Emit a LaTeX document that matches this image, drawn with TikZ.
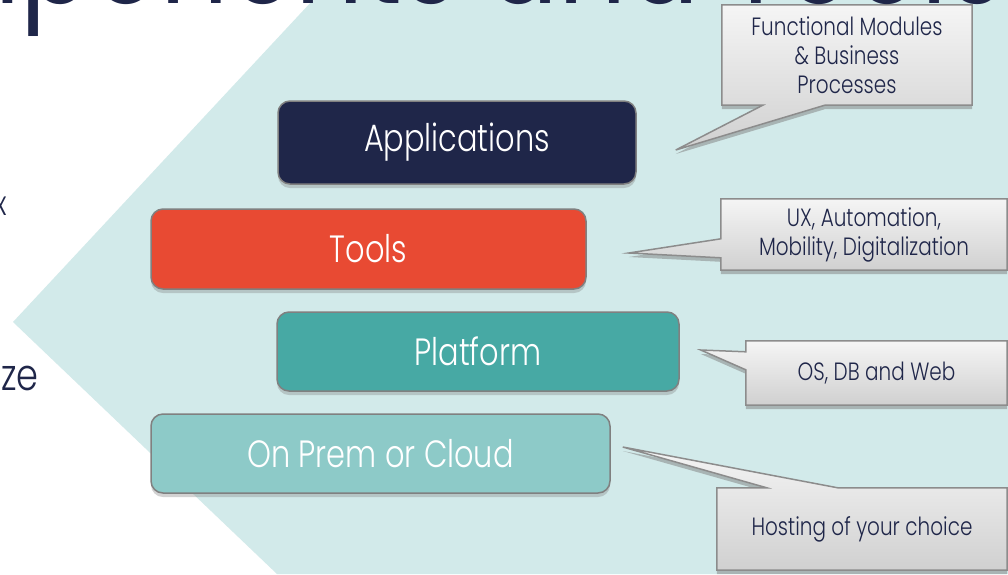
\documentclass[tikz,border=0pt]{standalone}
\usepackage{fontspec}
\usepackage{xcolor}
\usepackage{tikz}
\usetikzlibrary{calc,shadows,backgrounds}
\newfontfamily\jost{Poppins}[UprightFont=* Light, FakeStretch=0.8]
\newfontfamily\jostheading{Poppins}[FakeStretch=0.84]

\definecolor{navy}{RGB}{31,38,73}
\definecolor{toolsred}{RGB}{232,74,51}
\definecolor{platformteal}{RGB}{71,169,164}
\definecolor{cloudteal}{RGB}{141,202,200}
\definecolor{chevron}{RGB}{210,234,234}
\definecolor{boxgray}{RGB}{128,128,128}
\definecolor{notegray}{RGB}{140,140,140}
\definecolor{notetop}{RGB}{245,245,245}
\definecolor{notebottom}{RGB}{208,208,208}

\tikzset{
    layerbox/.style={rounded corners=12pt, draw=boxgray, line width=1.5pt,
        text=white, font=\jost\fontsize{38}{44}\selectfont,
        drop shadow={shadow xshift=0pt, shadow yshift=-4pt, opacity=0.35}},
    notetext/.style={text=navy, font=\jost\fontsize{25}{29}\selectfont,
        align=center, inner sep=0pt},
    noteshape/.style={draw=notegray, line width=1.5pt,
        top color=notetop, bottom color=notebottom,
        drop shadow={shadow xshift=0pt, shadow yshift=-4pt, opacity=0.5}},
    titletext/.style={text=navy, font=\jostheading\fontsize{127}{137}\selectfont, inner sep=0pt},
    fragment/.style={text=navy, font=\jost\fontsize{44}{50}\selectfont, inner sep=0pt},
}

\begin{document}
\begin{tikzpicture}[x=1pt, y=-1pt]
    \useasboundingbox (0,0) rectangle (1008,574);
    \clip (0,0) rectangle (1008,574);

    % background and chevron
    \begin{scope}[on background layer]
        \fill[white] (0,0) rectangle (1008,574);
        \fill[chevron] (313,0) -- (13,322) -- (277,574) -- (1008,574) -- (1008,0) -- cycle;
    \end{scope}

    % title and text cut by the frame
    \node[titletext, anchor=base east] (title) at (1004,3) {Components and Tools};
    \node[fragment, anchor=base east] (zefrag) at (39,390) {ze};
    \node[fragment, font=\jost\fontsize{34}{40}\selectfont, anchor=base east] (xfrag) at (7,215) {x};

    % layers
    \node[layerbox, fill=navy, minimum width=358pt, minimum height=83pt] (apps) at (457,142.5) {Applications};
    \node[layerbox, fill=toolsred, minimum width=435pt, minimum height=80pt] (tools) at (368.5,249) {Tools};
    \node[layerbox, fill=platformteal, minimum width=402pt, minimum height=79pt] (platform) at (478,351.5) {Platform};
    \node[layerbox, fill=cloudteal, minimum width=459pt, minimum height=79pt] (cloud) at (380.5,453.5) {On Prem or Cloud};

    % notes
    \node[notetext, minimum width=250pt, minimum height=100pt] (fmnote) at (847,55) {Functional Modules\\\& Business\\Processes};
    \node[notetext, minimum width=286pt, minimum height=71pt] (uxnote) at (864,234.5) {UX, Automation,\\Mobility, Digitalization};
    \node[notetext, minimum width=261pt, minimum height=64pt] (osnote) at (876.5,373) {OS, DB and Web};
    \node[notetext, minimum width=290pt, minimum height=82pt] (hostnote) at (862,529) {Hosting of your choice};

    % pointer tips
    \coordinate (fmtip) at ($(apps.east)+(39,7.5)$);
    \coordinate (uxtip) at ($(tools.east)+(42,4)$);
    \coordinate (ostip) at ($(platform.east)+(21,-1.5)$);
    \coordinate (hosttip) at ($(cloud.east)+(12,-6.5)$);

    % note shapes with pointers
    \begin{scope}[on background layer]
        \path[noteshape] (fmnote.north west) -- (fmnote.north east) -- (fmnote.south east)
            -- ($(fmnote.south west)+(103,0)$) -- (fmtip) -- ($(fmnote.south west)+(41,0)$)
            -- (fmnote.south west) -- cycle;
        \path[noteshape] (uxnote.north west) -- (uxnote.north east) -- (uxnote.south east)
            -- (uxnote.south west) -- ($(uxnote.north west)+(0,59)$) -- (uxtip)
            -- ($(uxnote.north west)+(0,40)$) -- cycle;
        \path[noteshape] (osnote.north west) -- (osnote.north east) -- (osnote.south east)
            -- (osnote.south west) -- ($(osnote.north west)+(0,29)$) -- (ostip)
            -- ($(osnote.north west)+(0,11)$) -- cycle;
        \path[noteshape] (hostnote.north west) -- ($(hostnote.north west)+(50,0)$) -- (hosttip)
            -- ($(hostnote.north west)+(121,0)$) -- (hostnote.north east)
            -- (hostnote.south east) -- (hostnote.south west) -- cycle;
    \end{scope}
\end{tikzpicture}
\end{document}
